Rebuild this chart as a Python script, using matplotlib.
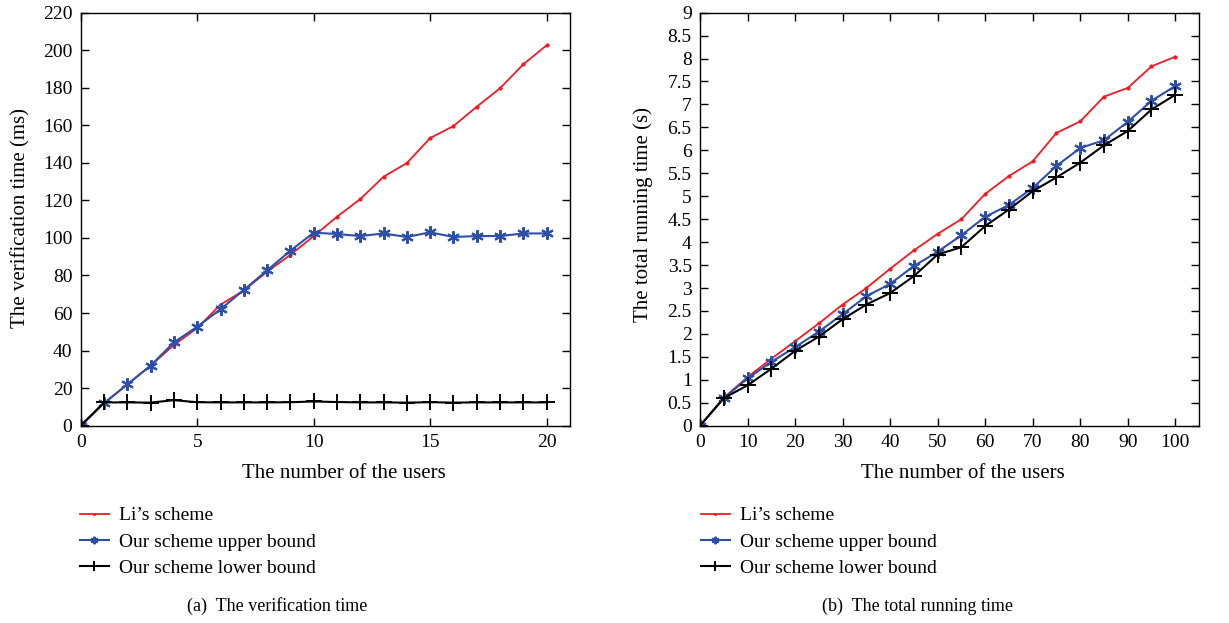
import matplotlib.pyplot as plt

plt.rcParams['font.family'] = ['Liberation Serif', 'DejaVu Serif']

# (a) verification time
users_a = list(range(0, 21))
li_a = [0, 12, 22, 32, 43, 52, 64.5, 72, 82, 91, 101, 111.3, 120.7, 132.6, 139.9,
        153.2, 159.6, 169.9, 179.7, 192.5, 202.6]
upper_a = [0, 12, 22, 32, 44.4, 52.7, 62, 72.3, 82.7, 93.2, 102.8, 102.1, 101, 102.4,
           100.5, 103, 100.5, 101, 101, 102.4, 102.4]
lower_a = [0, 12.4, 12.4, 12.3, 13.6, 12.5, 12.4, 12.4, 12.4, 12.5, 12.9, 12.6, 12.4,
           12.4, 12.3, 12.5, 12.3, 12.4, 12.4, 12.4, 12.4]

# (b) total running time
users_b = list(range(0, 101, 5))
li_b = [0, 0.61, 1.06, 1.46, 1.84, 2.23, 2.64, 3.0, 3.42, 3.82, 4.18, 4.5, 5.05,
        5.44, 5.76, 6.38, 6.63, 7.17, 7.36, 7.83, 8.04]
upper_b = [0, 0.6, 1.03, 1.39, 1.71, 2.05, 2.43, 2.82, 3.09, 3.48, 3.79, 4.15, 4.55,
           4.81, 5.18, 5.66, 6.05, 6.22, 6.62, 7.08, 7.40]
lower_b = [0, 0.6, 0.88, 1.24, 1.63, 1.94, 2.32, 2.64, 2.89, 3.26, 3.73, 3.89, 4.35,
           4.71, 5.11, 5.41, 5.73, 6.11, 6.42, 6.89, 7.21]

labels = ["Li\u2019s scheme", "Our scheme upper bound", "Our scheme lower bound"]
RED = '#ee1c25'
BLUE = '#2e4fa8'

W, H = 1229, 623
fig = plt.figure(figsize=(W / 100, H / 100), dpi=100)
ax1 = fig.add_axes([0.0657, 0.3167, 0.398, 0.663])
ax2 = fig.add_axes([0.5696, 0.3167, 0.406, 0.663])


def draw(ax, x, li, up, lo):
    h1, = ax.plot(x, li, color=RED, lw=1.3, marker='.', ms=4)
    h2, = ax.plot(x, up, color=BLUE, lw=1.5, marker=(6, 2, 0), ms=9, mew=1.5)
    h3, = ax.plot(x, lo, color='black', lw=1.5, marker='+', ms=11, mew=1.4)
    ax.tick_params(direction='in', top=True, right=True, length=6, width=1,
                   labelsize=14, pad=6)
    for s in ax.spines.values():
        s.set_linewidth(1)
    return h1, h2, h3


hs = draw(ax1, users_a, li_a, upper_a, lower_a)
ax1.set_xlim(0, 21)
ax1.set_ylim(0, 220)
ax1.set_xticks([0, 5, 10, 15, 20])
ax1.set_yticks(range(0, 221, 20))

draw(ax2, users_b, li_b, upper_b, lower_b)
ax2.set_xlim(0, 105)
ax2.set_ylim(0, 9)
ax2.set_xticks(range(0, 101, 10))
ax2.set_yticks([i * 0.5 for i in range(19)])
ax2.set_yticklabels(['0', '0.5', '1', '1.5', '2', '2.5', '3', '3.5', '4', '4.5',
                     '5', '5.5', '6', '6.5', '7', '7.5', '8', '8.5', '9'])

# axis titles
fig.text(21 / W, 1 - 218 / H, "The verification time (ms)", fontsize=15,
         rotation=90, ha='center', va='center')
fig.text(643 / W, 1 - 214 / H, "The total running time (s)", fontsize=15,
         rotation=90, ha='center', va='center')
fig.text(344 / W, 1 - 474 / H, "The number of the users", fontsize=15,
         ha='center', va='center')
fig.text(963 / W, 1 - 474 / H, "The number of the users", fontsize=15,
         ha='center', va='center')

for x0 in (72, 693):
    fig.legend(hs, labels, loc='upper left', bbox_to_anchor=(x0 / W, 1 - 499 / H),
               frameon=False, fontsize=14, handlelength=1.5, labelspacing=0.45,
               handletextpad=0.5, borderaxespad=0, markerscale=0.6)

fig.text(277 / W, 1 - 606 / H, "(a)  The verification time", fontsize=13,
         ha='center', va='center')
fig.text(918 / W, 1 - 606 / H, "(b)  The total running time", fontsize=13,
         ha='center', va='center')

fig.savefig('out.png', dpi=100)
